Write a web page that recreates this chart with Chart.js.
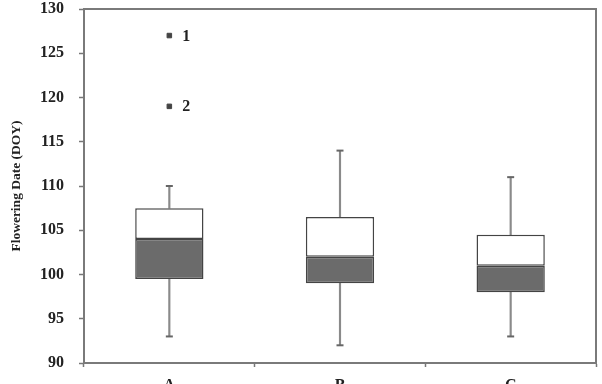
<!DOCTYPE html>
<html>
<head>
<meta charset="utf-8">
<script src="https://cdn.jsdelivr.net/npm/chart.js@4"></script>
<style>
  html, body { margin: 0; padding: 0; background: #fff; overflow: hidden; }
  #wrap { width: 602px; height: 400px; }
</style>
</head>
<body>
<div id="wrap"><canvas id="boxChart"></canvas></div>
<script>
// box plot values (DOY)
const groups = ['A', 'B', 'C'];
const whiskerLow = [93, 92, 93];
const q1 = [99.5, 99, 98];
const median = [104, 102, 101];
const q3 = [107.5, 106.5, 104.5];
const whiskerHigh = [110, 114, 111];

// outliers (only in group A)
const outlierGroup = 'A';
const outlierValues = [127, 119];
const outlierNames = ['1', '2'];

const yTicks = [90, 95, 100, 105, 110, 115, 120, 125, 130];

const serif = "'Liberation Serif', 'Times New Roman', serif";

// build per-group arrays for the chart
function pairs(lo, hi) {
    return groups.map((g, i) => [lo[i], hi[i]]);
}
function outlierSeries(k) {
    return groups.map(g => g === outlierGroup ? outlierValues[k] : null);
}

// frame round the plot + numbers next to outliers
const framePlugin = {
    id: 'frame',
    afterDraw(chart) {
        const ctx = chart.ctx;
        const a = chart.chartArea;
        ctx.save();
        ctx.strokeStyle = '#7a7a7a';
        ctx.lineWidth = 2;
        ctx.strokeRect(a.left, a.top, a.right - a.left, a.bottom - a.top);
        ctx.fillStyle = '#222';
        ctx.font = 'bold 16px ' + serif;
        ctx.textBaseline = 'middle';
        outlierNames.forEach((name, k) => {
            const meta = chart.getDatasetMeta(5 + k);
            const pt = meta.data[groups.indexOf(outlierGroup)];
            ctx.fillText(name, pt.x + 13, pt.y + 1);
        });
        ctx.restore();
    }
};

const boxChart = new Chart(document.getElementById('boxChart'), {
    type: 'bar',
    data: {
        labels: groups,
        datasets: [
            {
                label: 'whisker low',
                data: pairs(whiskerLow, q1),
                backgroundColor: '#8a8a8a',
                barThickness: 1.5,
                grouped: false,
                order: 5
            },
            {
                label: 'whisker high',
                data: pairs(q3, whiskerHigh),
                backgroundColor: '#8a8a8a',
                barThickness: 1.5,
                grouped: false,
                order: 5
            },
            {
                label: 'Q1-median',
                data: pairs(q1, median),
                backgroundColor: '#6b6b6b',
                borderColor: '#444',
                borderWidth: 1.5,
                borderSkipped: false,
                grouped: false,
                categoryPercentage: 1,
                barPercentage: 0.4,
                order: 4
            },
            {
                label: 'median-Q3',
                data: pairs(median, q3),
                backgroundColor: '#ffffff',
                borderColor: '#444',
                borderWidth: 1.5,
                borderSkipped: false,
                grouped: false,
                categoryPercentage: 1,
                barPercentage: 0.4,
                order: 4
            },
            {
                type: 'line',
                label: 'caps',
                data: whiskerLow,
                showLine: false,
                pointStyle: 'line',
                pointRadius: 3.5,
                borderColor: '#666',
                borderWidth: 2,
                order: 3
            },
            {
                type: 'line',
                label: 'outlier 1',
                data: outlierSeries(0),
                showLine: false,
                pointStyle: 'rect',
                pointRadius: 3.2,
                backgroundColor: '#444',
                borderColor: '#444',
                borderWidth: 1,
                order: 1
            },
            {
                type: 'line',
                label: 'outlier 2',
                data: outlierSeries(1),
                showLine: false,
                pointStyle: 'rect',
                pointRadius: 3.2,
                backgroundColor: '#444',
                borderColor: '#444',
                borderWidth: 1,
                order: 1
            },
            {
                type: 'line',
                label: 'caps high',
                data: whiskerHigh,
                showLine: false,
                pointStyle: 'line',
                pointRadius: 3.5,
                borderColor: '#666',
                borderWidth: 2,
                order: 3
            }
        ]
    },
    options: {
        responsive: true,
        maintainAspectRatio: false,
        animation: false,
        layout: { padding: { top: 9, right: 4, left: 0, bottom: 0 } },
        plugins: {
            legend: { display: false },
            tooltip: { enabled: false }
        },
        scales: {
            x: {
                offset: true,
                grid: {
                    offset: true,
                    drawOnChartArea: false,
                    tickLength: 4,
                    tickWidth: 1.5,
                    tickColor: '#777'
                },
                border: { color: '#7a7a7a', width: 2 },
                ticks: {
                    color: '#222',
                    padding: 9,
                    font: { family: serif, size: 16, weight: 'bold' }
                },
                afterFit(scale) {
                    scale.height = 37;
                    scale.paddingLeft = 0;
                    scale.paddingRight = 0;
                }
            },
            y: {
                min: 90,
                max: 130,
                afterBuildTicks(scale) {
                    scale.ticks = yTicks.map(v => ({ value: v }));
                },
                grid: {
                    drawOnChartArea: false,
                    tickLength: 5,
                    tickWidth: 1.5,
                    tickColor: '#777'
                },
                border: { color: '#5a5a5a', width: 2 },
                ticks: {
                    color: '#222',
                    padding: 15,
                    font: { family: serif, size: 16, weight: 'bold' }
                },
                title: {
                    display: true,
                    text: 'Flowering Date (DOY)',
                    color: '#222',
                    padding: { top: 8, bottom: 0 },
                    font: { family: serif, size: 13.5, weight: 'bold' }
                },
                afterFit(scale) {
                    scale.width = 84;
                    scale.paddingTop = 0;
                    scale.paddingBottom = 0;
                }
            }
        }
    },
    plugins: [framePlugin]
});
</script>
</body>
</html>
